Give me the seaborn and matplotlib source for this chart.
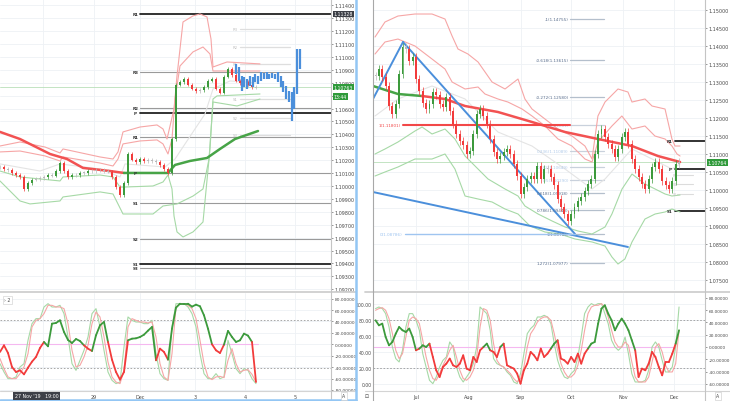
import numpy as np
import pandas as pd
import matplotlib
matplotlib.use("Agg")
import matplotlib.pyplot as plt
import seaborn as sns
from matplotlib.lines import Line2D
from matplotlib.transforms import blended_transform_factory

sns.set_theme(style="white")
plt.rcParams['font.family'] = ['DejaVu Sans']

# ---------------- left pane (2H bars, index units) ----------------
left_close = [1.10147, 1.10132, 1.10124, 1.10101, 1.10085, 1.10070, 1.09977, 1.10023, 1.10047, 1.10054,
              1.10062, 1.10070, 1.10085, 1.10078, 1.10116, 1.10178, 1.10116, 1.10070, 1.10085, 1.10085,
              1.10101, 1.10101, 1.10116, 1.10116, 1.10124, 1.10124, 1.10116, 1.10109, 1.10070, 1.09992,
              1.09930, 1.10023, 1.10248, 1.10202, 1.10186, 1.10209, 1.10194, 1.10202, 1.10194, 1.10186,
              1.10163, 1.10132, 1.10101, 1.10364, 1.10783, 1.10806, 1.10829, 1.10783, 1.10752, 1.10736,
              1.10744, 1.10767, 1.10814, 1.10829, 1.10752, 1.10721, 1.10845, 1.10907, 1.10860, 1.10814,
              1.10798, 1.10806, 1.10783, 1.10767, 1.10760]

blue_hi = [1.10946, 1.10922, 1.10853, 1.10845, 1.10829, 1.10853, 1.10845, 1.10868, 1.10853, 1.10884,
           1.10876, 1.10884, 1.10868, 1.10876, 1.10868, 1.10884, 1.10853, 1.10814, 1.10775, 1.10736,
           1.10729, 1.10767, 1.11062, 1.11062]
blue_lo = [1.10868, 1.10814, 1.10736, 1.10767, 1.10752, 1.10775, 1.10767, 1.10806, 1.10791, 1.10814,
           1.10829, 1.10829, 1.10829, 1.10837, 1.10829, 1.10806, 1.10767, 1.10729, 1.10674, 1.10651,
           1.10504, 1.10597, 1.10713, 1.10907]

lma_red_x = [0, 5, 12.5, 16.75, 20.75, 27.5, 31]
lma_red = [1.10419, 1.10364, 1.10248, 1.10209, 1.10140, 1.10116, 1.10101]
lma_green_x = [31, 42, 43.75, 47.5, 51.75, 55, 58.75, 64.5]
lma_green = [1.10101, 1.10101, 1.10163, 1.10194, 1.10217, 1.10287, 1.10364, 1.10426]

lup_out_x = [0, 5, 11.25, 15, 15.75, 25, 28.25, 29.5, 30.75, 35, 39.25, 40.75, 41.75, 43.5, 44.25,
             45.75, 48.25, 50, 51.75, 52.75, 53.25, 56.75, 65]
lup_out = [1.10310, 1.10341, 1.10302, 1.10256, 1.10287, 1.10225, 1.10209, 1.10264, 1.10419, 1.10457,
           1.10473, 1.10442, 1.10364, 1.10597, 1.10853, 1.11271, 1.11318, 1.11333, 1.11310, 1.11139,
           1.10922, 1.10961, 1.10946]
lup_in_x = [0, 5, 11.25, 15, 15.75, 25, 28.25, 29.5, 30.75, 35, 39.25, 40.75, 42, 43, 43.75, 45,
            48.25, 50.75, 52.5, 53.25, 55, 65]
lup_in = [1.10264, 1.10271, 1.10233, 1.10194, 1.10225, 1.10178, 1.10155, 1.10209, 1.10326, 1.10349,
          1.10357, 1.10326, 1.10248, 1.10364, 1.10674, 1.10930, 1.11039, 1.11077, 1.11023, 1.10891,
          1.10891, 1.10891]
llo_in_x = [0, 5, 15, 15.75, 25, 28.25, 30, 31.25, 38.25, 40.75, 42, 43, 43.5, 44.25, 45.75, 48.25,
            50.75, 52.5, 53.25, 54.25, 65]
llo_in = [1.10116, 1.10070, 1.10039, 1.10070, 1.10085, 1.10070, 1.09992, 1.09992, 1.10000, 1.10031,
          1.10085, 1.09977, 1.09768, 1.09644, 1.09605, 1.09644, 1.09721, 1.10287, 1.10674, 1.10698,
          1.10713]
llo_out_x = [0, 5, 7.5, 15, 15.75, 25, 28.25, 30.75, 38.25, 40.75, 44.25, 48.25, 50.75, 52.25, 53.25,
             59.25, 65]
llo_out = [1.10039, 1.09884, 1.09861, 1.09884, 1.09915, 1.09954, 1.09938, 1.09783, 1.09783, 1.09845,
           1.09861, 1.09922, 1.09977, 1.10209, 1.10651, 1.10620, 1.10674]
lmid_x = [0, 10, 15, 25, 30, 31.25, 41.25, 43.75, 48.75, 51.25, 53.25, 57.5, 64.5]
lmid = [1.10171, 1.10116, 1.10171, 1.10132, 1.10070, 1.10171, 1.10147, 1.10209, 1.10442, 1.10558,
        1.10752, 1.10814, 1.10798]

piv_l_names = ['R1', 'R3', 'R2', 'P', 'R1', 'P', 'S1', 'S2', 'S1', 'S3']
piv_l_levels = [1.11333, 1.10884, 1.10605, 1.10566, 1.10380, 1.10101, 1.09868, 1.09589, 1.09396, 1.09365]
piv_l_faint_names = ['R3', 'R2', 'R1', 'S1', 'S2', 'S3']
piv_l_faint_levels = [1.11217, 1.11077, 1.10946, 1.10674, 1.10527, 1.10395]

osc_l_main = [-13.4, -1.8, -15.2, -39.7, -48.5, -45.6, -52.6, -40.9, -30.4, -22.2, -6.4, 4.1, -3.5,
              36.2, 37.4, 42, 21.6, 7.6, 2.3, 9.3, 5.8, -1.8, -7.6, -11.7, 15.8, 33.3, 39.1, 4.1,
              -26.9, -48.5, -61.9, -48.5, 7, 9.9, 10.5, 12.8, 16.9, 23.9, 30.4, -28, -7.6, -13.4,
              -26.9, 27.4, 64.2, 71.2, 71.2, 71.2, 66, 69.5, 66.6, 50.8, 27.4, 0, -10.5, -15.2, -0.6,
              23.4, 12.8, 4.1, 7, 18.7, 15.2, 4.1, -66]
osc_l_fast = [-33.9, -48.5, -60.2, -60.2, -57.2, -39.7, -33.9, 7, 36.2, 45, 45, 65.4, 71.2, 65.4, 65.4,
              68.3, 53.7, 12.8, -33.9, -45.6, -28, -10.5, 12.8, 53.7, 62.5, 30.4, -10.5, -48.5, -63.1,
              -68.9, -66, -4.7, 47.9, 42, 39.1, 39.1, 36.2, 36.2, 42, -16.4, -51.4, -60.2, -63.1, 30.4,
              71.2, 71.2, 71.2, 65.4, 53.7, 30.4, -16.4, -51.4, -60.2, -60.2, -51.4, -60.2, -57.2, 7,
              -16.4, -42.6, -51.4, -42.6, -45.6, -60.2, -68.9]
osc_l_slow = [-25.1, -42.6, -57.2, -60.2, -60.2, -51.4, -39.7, -16.4, 30.4, 42, 45, 53.7, 68.3, 68.3,
              65.4, 65.4, 62.5, 36.2, -10.5, -39.7, -36.8, -22.2, -1.8, 36.2, 56.6, 47.9, 12.8, -31,
              -57.2, -66, -68.9, -45.6, 30.4, 45, 42, 39.1, 39.1, 37.4, 39.1, 12.8, -33.9, -57.2, -63.1,
              -16.4, 65.4, 71.2, 71.2, 68.3, 62.5, 45, 7, -33.9, -57.2, -61.9, -57.2, -56.1, -58.4, -28,
              -7.6, -33.9, -48.5, -45.6, -44.4, -52.6, -66]

left_tick_pos = [10.75, 23.5, 35, 48.75, 61.25, 73.75]
left_tick_lab = ['', '29', 'Dec', '3', '4', '5']

# ---------------- right pane (daily, days since 1 Jul 2019) ----------------
right_dates = pd.date_range('2019-06-07', periods=91, freq='2D')
right_close = [1.13167, 1.13361, 1.13139, 1.12889, 1.12333, 1.12111, 1.12389, 1.13222, 1.13972, 1.13917,
               1.13583, 1.13694, 1.13083, 1.12750, 1.12417, 1.12250, 1.12389, 1.12722, 1.12639, 1.12389,
               1.12306, 1.12583, 1.12194, 1.11833, 1.11556, 1.11361, 1.11250, 1.11000, 1.11083, 1.11556,
               1.12111, 1.12250, 1.12056, 1.11833, 1.11417, 1.11056, 1.10861, 1.10944, 1.11056, 1.11139,
               1.11000, 1.10722, 1.10389, 1.09889, 1.10083, 1.10306, 1.10389, 1.10306, 1.10667, 1.10306,
               1.10583, 1.10583, 1.10361, 1.10139, 1.09750, 1.09528, 1.09333, 1.09139, 1.09333, 1.09528,
               1.09694, 1.09806, 1.09972, 1.10167, 1.10306, 1.11000, 1.11556, 1.11694, 1.11472, 1.11278,
               1.11139, 1.10917, 1.11139, 1.11472, 1.11611, 1.11278, 1.10861, 1.10583, 1.10361, 1.10167,
               1.10028, 1.10306, 1.10639, 1.10778, 1.10583, 1.10250, 1.10139, 1.10028, 1.10250, 1.10722,
               1.10778]

rma_x = [-25.5, -10.7, 3.6, 17.2, 29.1, 48.6, 68.8, 88.4, 107.9, 128.1, 143.5, 156.6]
rma = [1.12889, 1.12667, 1.12611, 1.12528, 1.12333, 1.12167, 1.11889, 1.11611, 1.11417, 1.11222,
       1.10944, 1.10778]

rup_out_x = [-24.3, -18.4, -10.7, -0.6, 9.5, 17.2, 21.4, 24.9, 30.8, 36.8, 45.1, 52.8, 60.5, 64.6, 68.8,
             76.5, 84.2, 92.5, 100.2, 104.4, 107.9, 112.1, 119.8, 125.7, 128.1, 135.8, 140, 147.7, 151.8,
             153.6, 156.6]
rup_out = [1.14250, 1.14667, 1.14833, 1.14889, 1.14889, 1.14750, 1.14278, 1.13917, 1.13778, 1.13556,
           1.13000, 1.12806, 1.13083, 1.12528, 1.12250, 1.11972, 1.11694, 1.11500, 1.11222, 1.10861,
           1.12056, 1.12444, 1.12806, 1.12722, 1.12444, 1.12528, 1.12333, 1.12250, 1.11417, 1.11222,
           1.11222]
rup_in_x = [-24.3, -18.4, -10.7, -0.6, 9.5, 17.2, 21.4, 29.1, 36.8, 40.9, 48.6, 54.5, 62.9, 68.8, 76.5,
            84.2, 92.5, 100.2, 104.4, 107.9, 116.2, 122.1, 128.1, 135.8, 141.7, 147.7, 151.8, 154.8, 156.6]
rup_in = [1.13778, 1.14111, 1.14194, 1.14000, 1.13639, 1.13361, 1.13000, 1.12806, 1.12861, 1.12667,
          1.12528, 1.12444, 1.12250, 1.12056, 1.11778, 1.11417, 1.11222, 1.10861, 1.10778, 1.11333,
          1.11778, 1.12056, 1.11694, 1.11778, 1.11500, 1.11417, 1.11222, 1.11000, 1.10944]
rlo_in_x = [-24.3, -18.4, -10.7, -0.6, 3.6, 9.5, 17.2, 23.1, 29.1, 35, 42.7, 52.8, 60.5, 64.6, 72.4,
            80.7, 88.4, 96.1, 104.4, 112.1, 116.2, 122.2, 128.1, 135.8, 141.8, 147.7, 151.8, 156.6]
rlo_in = [1.11000, 1.11139, 1.11333, 1.11639, 1.11750, 1.11556, 1.11694, 1.11417, 1.10944, 1.10667,
          1.10306, 1.10028, 1.09833, 1.09556, 1.09333, 1.09139, 1.08972, 1.08861, 1.08778, 1.08972,
          1.09333, 1.10028, 1.10444, 1.10167, 1.10028, 1.09889, 1.09833, 1.09861]
rlo_out_x = [-24.3, -18.4, -10.7, -0.6, 9.5, 17.2, 23.1, 29.1, 36.8, 45.1, 52.8, 60.5, 67.6, 76.5, 85.4,
             94.3, 104.4, 112.1, 116.2, 119.8, 123.9, 128.1, 135.8, 141.8, 147.7, 151.8, 156.6]
rlo_out = [1.10389, 1.10500, 1.10639, 1.10861, 1.10861, 1.11000, 1.10583, 1.09833, 1.09750, 1.09667,
           1.09472, 1.09333, 1.09000, 1.08833, 1.08778, 1.08639, 1.08556, 1.08444, 1.08139, 1.07944,
           1.08083, 1.08556, 1.09194, 1.09333, 1.09389, 1.09472, 1.09389]
rmid_x = [-24.3, -10.7, 9.5, 29.1, 48.6, 68.8, 88.4, 104.4, 112.1, 128.1, 140, 151.8, 156.6]
rmid = [1.12056, 1.12528, 1.12889, 1.12528, 1.11611, 1.11222, 1.10583, 1.10028, 1.10306, 1.11139,
        1.10861, 1.10583, 1.10722]

trend_a_x, trend_a = [-25.5, -7.7], [1.12528, 1.14111]
trend_b_x, trend_b = [-7.7, 94.3], [1.14111, 1.08778]
trend_c_x, trend_c = [-25.5, 125.7], [1.09944, 1.08417]
red_level, red_span = 1.11801, [-7.7, 91.3]
blue_level, blue_span = 1.08786, [-6.5, 94.3]

fib_levels = ['-1', '-0.618', '-0.272', '0', '0.236', '0.382', '0.5', '0.618', '0.786', '1', '1.272']
fib_prices = [1.14755, 1.13615, 1.12580, 1.11801, 1.11089, 1.10649, 1.10290, 1.09918, 1.09440, 1.08786, 1.07977]

piv_r_names = ['R1', 'P', 'S1']
piv_r_levels = [1.11361, 1.10583, 1.09417]
piv_r_faint_names = ['R1', 'S1', 'S2']
piv_r_faint_levels = [1.10417, 1.10167, 1.09889]

osc_r_main = [79.2, 72.9, 75, 58.3, 47.9, 52.1, 62.5, 70.8, 66.7, 64.6, 68.8, 58.3, 41.7, 43.8, 47.9,
              45.8, 50, 33.3, 16.7, 8.3, 20.8, 25, 31.3, 22.9, 20.8, 25, 35.4, 18.8, 16.7, 33.3, 27.1,
              41.7, 45.8, 50, 41.7, 39.6, 33.3, 45.8, 50, 22.9, 20.8, 18.8, 12.5, 0, 16.7, 25, 39.6,
              35.4, 29.2, 43.8, 33.3, 37.5, 43.8, 50, 54.2, 31.3, 29.2, 25, 33.3, 27.1, 37.5, 25, 37.5,
              43.8, 50, 52.1, 75, 93.8, 97.9, 87.5, 79.2, 66.7, 75, 81.3, 75, 66.7, 54.2, 41.7, 8.3,
              18.8, 16.7, 25, 39.6, 33.3, 20.8, 10.4, 27.1, 27.1, 37.5, 50, 66.7]
osc_r_fast = [93.8, 95.8, 93.8, 87.5, 70.8, 45.8, 31.3, 27.1, 41.7, 70.8, 87.5, 87.5, 79.2, 66.7, 37.5,
              20.8, 4.2, 0, 8.3, 20.8, 29.2, 33.3, 52.1, 45.8, 20.8, 8.3, 2.1, 8.3, 14.6, 25, 45.8,
              95.8, 91.7, 87.5, 66.7, 31.3, 25, 22.9, 20.8, 14.6, 10.4, 2.1, 0, 12.5, 37.5, 62.5, 68.8,
              72.9, 83.3, 83.3, 85.4, 83.3, 75, 50, 29.2, 16.7, 8.3, 6.3, 12.5, 16.7, 33.3, 58.3, 87.5,
              95.8, 100, 97.9, 100, 100, 87.5, 75, 54.2, 45.8, 41.7, 45.8, 58.3, 37.5, 12.5, 2.1, 2.1,
              2.1, 4.2, 16.7, 45.8, 52.1, 45.8, 29.2, 14.6, 14.6, 20.8, 45.8, 95.8]
osc_r_slow = [91.7, 93.8, 95, 91.7, 81.3, 62.5, 41.7, 31.3, 37.5, 58.3, 79.2, 83.3, 81.3, 75, 54.2, 33.3,
              16.7, 6.3, 4.2, 12.5, 22.9, 31.3, 41.7, 47.9, 33.3, 16.7, 6.3, 4.2, 8.3, 16.7, 33.3, 70.8,
              93.8, 91.7, 79.2, 50, 29.2, 22.9, 20.8, 16.7, 12.5, 6.3, 2.1, 6.3, 20.8, 45.8, 62.5, 68.8,
              77.1, 81.3, 83.3, 83.3, 79.2, 62.5, 41.7, 25, 14.6, 8.3, 8.3, 12.5, 22.9, 41.7, 66.7, 87.5,
              95.8, 97.9, 97.9, 100, 95.8, 83.3, 66.7, 52.1, 45.8, 45.8, 52.1, 47.9, 27.1, 8.3, 2.1, 2.1,
              2.1, 8.3, 27.1, 45.8, 50, 39.6, 22.9, 14.6, 14.6, 25, 66.7]

month_days = [0, 31, 62, 92, 123, 153]
month_labels = ['Jul', 'Aug', 'Sep', 'Oct', 'Nov', 'Dec']

# ---------------- styles ----------------
GREEN = "#3c9a3c"
RED = "#f23b3b"
GREY = "#b9b9b9"
BAND_RED = "#f6a6a6"
BAND_GREEN = "#a6d9a6"
MID_GREY = "#e4e4e4"
BLUE = "#4b8fdb"
GRID = "#eef1f5"
TXT = "#4a4a4a"
AX = "#c4c4c4"
TICK_FS = 3.5
HEAVY_LEFT = {0, 3, 8}
W, H = 730, 402


def box(x0, y0, x1, y1):
    return [x0 / W, 1 - y1 / H, (x1 - x0) / W, (y1 - y0) / H]


def line(ax, x, y, color, lw, **kw):
    sns.lineplot(x=x, y=y, ax=ax, color=color, linewidth=lw, sort=False,
                 estimator=None, legend=False, **kw)


def candles(ax, x, close, width, pad, flat):
    close = np.asarray(close)
    opens = np.r_[close[0], close[:-1]]
    diff = close - opens
    cols = np.where(np.abs(diff) < flat, GREY, np.where(diff > 0, GREEN, RED))
    lo, hi = np.minimum(opens, close), np.maximum(opens, close)
    ax.vlines(x, lo - pad, hi + pad, colors=cols, lw=0.5, zorder=3)
    ax.bar(x, np.maximum(hi - lo, flat * 0.4), bottom=lo, width=width, color=cols,
           linewidth=0, zorder=3)


def two_tone(ax, x, y, level, lw):
    for i in range(len(x) - 1):
        c = GREEN if (y[i] + y[i + 1]) / 2 >= level else RED
        ax.plot(x[i:i + 2], y[i:i + 2], color=c, lw=lw, solid_capstyle='round', zorder=4)


def style(ax):
    for s in ax.spines.values():
        s.set_visible(False)
    ax.tick_params(axis='both', labelsize=TICK_FS, colors=TXT, length=1.5, width=0.4, pad=1.2)
    ax.grid(True, color=GRID, lw=0.6)
    ax.set_xlabel('')
    ax.set_ylabel('')


def price_tag(ax, y, text, fc, dy=0.0):
    tr = blended_transform_factory(ax.transAxes, ax.transData)
    ax.text(1.008, y + dy, text, transform=tr, fontsize=3.3, color='white', ha='left', va='center',
            bbox=dict(boxstyle='square,pad=0.2', fc=fc, ec='none'), clip_on=False, zorder=10)


fig = plt.figure(figsize=(7.3, 4.02), dpi=100)
fig.patch.set_facecolor('white')
axLt = fig.add_axes(box(0, 0, 331, 291))
axLb = fig.add_axes(box(0, 294, 331, 392))
axRt = fig.add_axes(box(373, 0, 705, 291))
axRb = fig.add_axes(box(373, 294, 705, 392))

# ---------- left top ----------
ax = axLt
lx = np.arange(len(left_close))
ax.set_xlim(0, 82.75)
ax.set_ylim(1.09194, 1.11449)
xe = 82.75
for k, (nm, lv) in enumerate(zip(piv_l_names, piv_l_levels)):
    heavy = k in HEAVY_LEFT
    ax.plot([35, xe], [lv, lv], color='#222222' if heavy else '#9a9a9a',
            lw=1.3 if heavy else 0.8, zorder=2)
    ax.text(33.8, lv, nm, fontsize=3, color='#333333', ha='center', va='center', fontweight='bold')
for nm, lv in zip(piv_l_faint_names, piv_l_faint_levels):
    ax.plot([60, 72.5], [lv, lv], color='#dedede', lw=0.9, zorder=2)
    ax.text(58.8, lv, nm, fontsize=2.8, color='#c0c0c0', ha='center', va='center')
ax.axhline(1.10767, color='#b9dfb9', lw=0.6, zorder=2)
line(ax, lmid_x, lmid, MID_GREY, 0.8)
line(ax, lup_out_x, lup_out, BAND_RED, 0.8)
line(ax, lup_in_x, lup_in, BAND_RED, 0.8)
line(ax, llo_in_x, llo_in, BAND_GREEN, 0.8)
line(ax, llo_out_x, llo_out, BAND_GREEN, 0.8)
line(ax, lma_red_x, lma_red, "#f25252", 1.8)
line(ax, lma_green_x, lma_green, "#47a447", 1.8)
candles(ax, lx, left_close, 0.55, 0.00012, 0.00009)
bx = np.linspace(59, 75, len(blue_hi))
ax.vlines(bx, blue_lo, blue_hi, colors=BLUE, lw=1.6, zorder=5)
style(ax)
ax.yaxis.tick_right()
ticks = np.round(np.arange(1092, 1115) / 1000, 3)
ax.set_yticks(ticks)
# the 1.10700 label sits under the time tag, as in the source screenshot
ax.set_yticklabels(['' if t == 1.107 else f"{t:.5f}" for t in ticks])
ax.set_xticks(left_tick_pos)
ax.tick_params(axis='x', labelbottom=False, length=0)
price_tag(ax, 1.10767, "1.10763", "#2f9a3a")
price_tag(ax, 1.10767, "13:44", "#2f9a3a", dy=-0.00072)
price_tag(ax, 1.11333, "1.11328", "#3b3e45")

# ---------- left bottom ----------
ax = axLb
ax.set_xlim(0, 82.75)
ax.set_ylim(-81.8, 89.9)
ax.plot([0, 64.6], [0, 0], color='#f5b8f0', lw=0.8, zorder=2)
for lv in (43, -41):
    ax.axhline(lv, color='#9a9a9a', lw=0.6, ls=(0, (2, 2)), zorder=2)
line(ax, lx, osc_l_fast, BAND_GREEN, 0.8)
line(ax, lx, osc_l_slow, BAND_RED, 0.8)
two_tone(ax, lx, osc_l_main, 0, 1.3)
style(ax)
ax.yaxis.tick_right()
oticks = np.arange(-80, 81, 20)
ax.set_yticks(oticks)
ax.set_yticklabels([f"{t:.5f}" for t in oticks])
ax.tick_params(axis='y', labelsize=3.2)
ax.set_xticks(left_tick_pos)
ax.set_xticklabels(left_tick_lab)
ax.tick_params(axis='x', length=0, pad=2)
ax.text(0.012, 0.93, "› 2", transform=ax.transAxes, fontsize=3.3, color=TXT, va='center',
        bbox=dict(boxstyle='square,pad=0.3', fc='white', ec='#cccccc', lw=0.4))

# ---------- right top ----------
ax = axRt
rx = (right_dates - pd.Timestamp('2019-07-01')).days.values.astype(float)
ax.set_xlim(-25.5, 171.4)
ax.set_ylim(1.07222, 1.15306)
ax.axhline(1.10764, color='#b9dfb9', lw=0.6, zorder=2)
for nm, lv in zip(piv_r_names, piv_r_levels):
    ax.plot([153.6, 171.4], [lv, lv], color='#222222', lw=1.3, zorder=2)
    ax.text(150.7, lv, nm, fontsize=3, color='#333333', ha='center', va='center', fontweight='bold')
for nm, lv in zip(piv_r_faint_names, piv_r_faint_levels):
    ax.plot([155, 164], [lv, lv], color='#dcdcdc', lw=0.8, zorder=2)
    ax.text(153.6, lv, nm, fontsize=2.5, color='#c4c4c4', ha='center', va='center')
for lab, pr in zip(fib_levels, fib_prices):
    faint = lab in ('0', '0.236', '0.382', '0.5')
    ax.plot([91.3, 111.5], [pr, pr], color='#c9d1dc' if faint else '#b4bfcc', lw=0.9, zorder=2)
    ax.text(90.6, pr, f"{lab}({pr:.5f})", fontsize=3, ha='right', va='center',
            color='#b1cbea' if faint else '#586d8c')
line(ax, rmid_x, rmid, MID_GREY, 0.8)
line(ax, rup_out_x, rup_out, BAND_RED, 0.8)
line(ax, rup_in_x, rup_in, BAND_RED, 0.8)
line(ax, rlo_in_x, rlo_in, BAND_GREEN, 0.8)
line(ax, rlo_out_x, rlo_out, BAND_GREEN, 0.8)
ax.plot(red_span, [red_level, red_level], color='#f24848', lw=1.5, zorder=3)
ax.text(red_span[0] - 1.0, red_level, f"1({red_level:.5f})", fontsize=3, color='#f24848',
        ha='right', va='center')
ax.plot(blue_span, [blue_level, blue_level], color='#9fc5f0', lw=1.0, zorder=3)
ax.text(blue_span[0] - 1.8, blue_level, f"0({blue_level:.5f})", fontsize=3, color='#9fc5f0',
        ha='right', va='center')
line(ax, rma_x[:3], rma[:3], "#47a447", 1.8)
line(ax, rma_x[2:], rma[2:], "#f25252", 1.8)
candles(ax, rx, right_close, 1.15, 0.0011, 0.0007)
for tx, ty in ((trend_a_x, trend_a), (trend_b_x, trend_b), (trend_c_x, trend_c)):
    line(ax, tx, ty, BLUE, 1.4)
style(ax)
ax.yaxis.tick_right()
rticks = np.round(np.arange(1075, 1151, 5) / 1000, 3)
ax.set_yticks(rticks)
ax.set_yticklabels([f"{t:.5f}" for t in rticks])
ax.set_xticks(month_days)
ax.tick_params(axis='x', labelbottom=False, length=0)
price_tag(ax, 1.10764, "1.10764", "#2f9a3a")

# ---------- right bottom ----------
ax = axRb
ax.set_xlim(-25.5, 171.4)
ax.set_ylim(-9.2, 113.3)
ax.plot([-25.5, 153.6], [45.8, 45.8], color='#f5b8f0', lw=0.8, zorder=2)
for lv in (80, 20):
    ax.axhline(lv, color='#9a9a9a', lw=0.6, ls=(0, (2, 2)), zorder=2)
line(ax, rx, osc_r_fast, BAND_GREEN, 0.8)
line(ax, rx, osc_r_slow, BAND_RED, 0.8)
two_tone(ax, rx, osc_r_main, 45.8, 1.3)
style(ax)
lt = np.arange(0, 101, 20)
ax.set_yticks(lt)
ax.set_yticklabels([f"{t:.2f}" for t in lt])
ax.set_xticks(month_days)
ax.set_xticklabels(month_labels)
ax.tick_params(axis='x', length=0, pad=2)
ax.tick_params(axis='y', length=0, pad=0.8, labelsize=3.3)
ax2 = ax.twinx()
ax2.set_ylim(-71.4, 87.6)
rt = np.arange(-60, 81, 20)
ax2.set_yticks(rt)
ax2.set_yticklabels([f"{t:.5f}" for t in rt])
for s in ax2.spines.values():
    s.set_visible(False)
ax2.tick_params(axis='y', labelsize=3.1, colors=TXT, length=1.5, width=0.4, pad=1.0)
ax2.grid(False)

# ---------- frame lines and labels ----------
def fline(x0, y0, x1, y1, color, lw):
    fig.add_artist(Line2D([x0 / W, x1 / W], [1 - y0 / H, 1 - y1 / H], color=color, lw=lw))


fline(0, 292.5, 356, 292.5, '#cfcfcf', 1.3)
fline(365, 292.5, 730, 292.5, '#cfcfcf', 1.3)
fline(0, 392, 356, 392, '#d4d4d4', 0.8)
fline(365, 392, 730, 392, '#d4d4d4', 0.8)
fline(331, 0, 331, 402, AX, 0.8)
fline(705, 0, 705, 402, AX, 0.8)
fline(373, 0, 373, 402, '#a8a8a8', 0.8)
fline(356, 0, 356, 402, '#93c6f4', 1.8)
fline(0, 401, 356, 401, '#93c6f4', 1.8)

fig.text(15 / W, 1 - 397 / H, "27 Nov '19   19:00", fontsize=3.4, color='white', ha='left', va='center',
         bbox=dict(boxstyle='square,pad=0.35', fc='#3d4048', ec='none'))
for ax_x in (344, 718):
    fig.text(ax_x / W, 1 - 397 / H, "A", fontsize=3.3, color=TXT, ha='center', va='center',
             bbox=dict(boxstyle='square,pad=0.3', fc='white', ec='#c8c8c8', lw=0.4))
fig.text(367 / W, 1 - 397 / H, "⊡", fontsize=3.5, color=TXT, ha='center', va='center')

fig.savefig("out.png", dpi=100)
